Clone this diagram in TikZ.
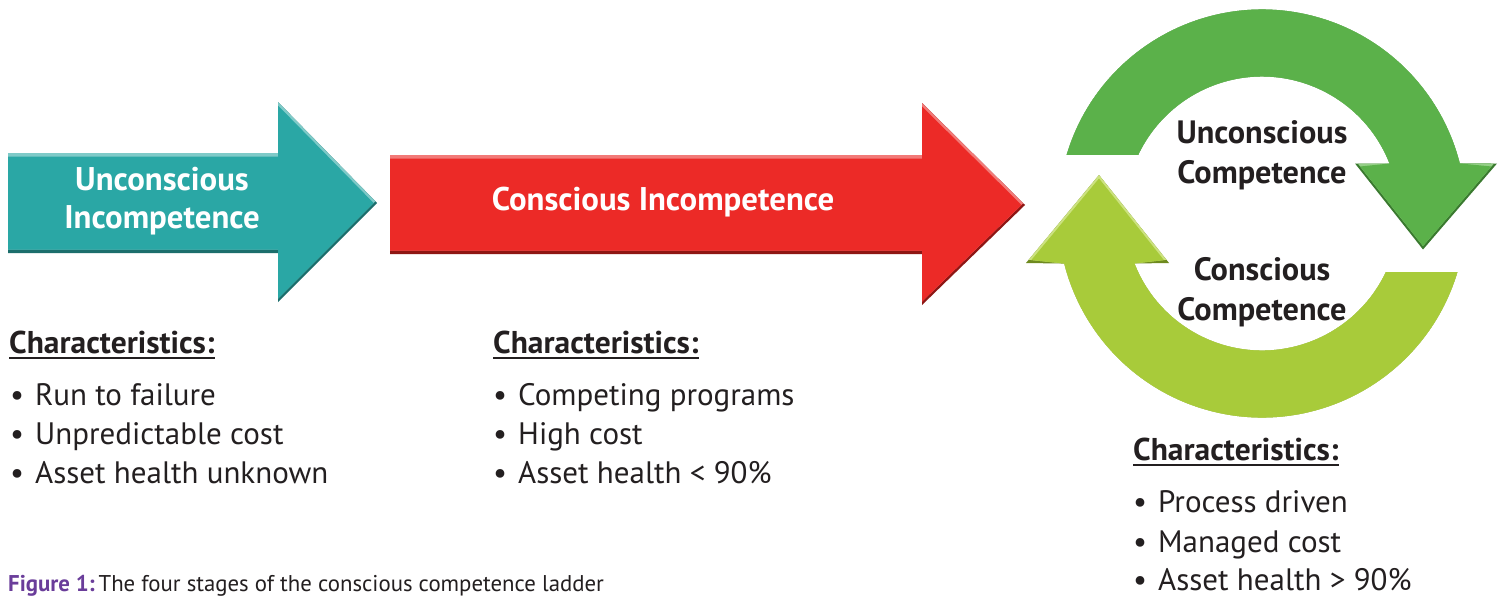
\documentclass[tikz,border=0pt]{standalone}
\usepackage{fontspec}
\setmainfont{PT Sans}
\usetikzlibrary{calc}
\definecolor{txt}{HTML}{231F20}
\definecolor{capc}{HTML}{6A3D9A}
\definecolor{tealM}{HTML}{2AA7A5}
\definecolor{tealL}{HTML}{7FCAC8}
\definecolor{tealD}{HTML}{1B6E6C}
\definecolor{redM}{HTML}{EC2A27}
\definecolor{redL}{HTML}{F27A78}
\definecolor{redD}{HTML}{8E1614}
\definecolor{grnM}{HTML}{5BB14A}
\definecolor{grnL}{HTML}{95CF87}
\definecolor{grnD}{HTML}{3A7A2F}
\definecolor{ygM}{HTML}{A8CB3A}
\definecolor{ygL}{HTML}{CCE27F}
\definecolor{ygD}{HTML}{6E8A1F}
\newcommand\bevelshape[4]{%
  \begin{scope}
    \clip #1;
    \fill[#4] (-100,200) rectangle (1700,-800);
    \begin{scope}[yshift=3.5pt]
      \clip #1;
      \fill[#3] (-100,200) rectangle (1700,-800);
      \begin{scope}[yshift=-7pt]
        \clip #1;
        \fill[#2] (-100,200) rectangle (1700,-800);
      \end{scope}
    \end{scope}
  \end{scope}}
\tikzset{
  lbl/.style={anchor=base, text=white, inner sep=0, font=\bfseries\fontsize{32.8}{38}\selectfont},
  clbl/.style={anchor=base, text=txt, inner sep=0, font=\bfseries\fontsize{32.3}{38}\selectfont},
  hd/.style={anchor=base west, text=txt, inner sep=0, font=\bfseries\fontsize{31.5}{36}\selectfont},
  item/.style={anchor=base west, text=txt, inner sep=0, font=\fontsize{31}{36}\selectfont},
  uline/.style={draw=txt, line width=2.2pt},
}
\newcommand\bul[1]{\makebox[25pt][l]{\textbullet}#1}
\begin{document}
\begin{tikzpicture}[x=1pt,y=1pt]
\useasboundingbox (0,0) rectangle (1501,-598);
\fill[white] (0,0) rectangle (1501,-598);
\coordinate (C) at (1262,-213.5);
\def\tealpath{(8,-153) -- (278,-153) -- (278,-102) -- (377,-203) -- (278,-302) -- (278,-253) -- (8,-253) -- cycle}
\def\redpath{(390,-155) -- (922,-155) -- (922,-103) -- (1025,-205) -- (922,-305) -- (922,-254) -- (390,-254) -- cycle}
\def\toparc{($(C)+(163.3:204pt)$) arc[start angle=163.3, end angle=14.2, radius=204pt] -- (1497,-163.5) -- (1423,-249.5) -- (1355,-163.5) -- ($(C)+(21.4:137pt)$) arc[start angle=21.4, end angle=154.7, radius=137pt] -- cycle}
\def\botarc{($(C)+(343.3:204pt)$) arc[start angle=343.3, end angle=194.2, radius=204pt] -- (1026,-263) -- (1099,-175) -- (1169,-263) -- ($(C)+(201.4:137pt)$) arc[start angle=201.4, end angle=334.7, radius=137pt] -- cycle}
\bevelshape{\tealpath}{tealM}{tealL}{tealD}
\bevelshape{\redpath}{redM}{redL}{redD}
\bevelshape{\toparc}{grnM}{grnL}{grnD}
\bevelshape{\botarc}{ygM}{ygL}{ygD}
% arrow labels
\node[lbl] (t1) at (162,-190) {Unconscious};
\node[lbl] (t2) at (162,-228) {Incompetence};
\node[lbl] (r1) at (663,-210) {Conscious Incompetence};
\node[clbl] (g1) at (1262,-143) {Unconscious};
\node[clbl] (g2) at (1262,-183) {Competence};
\node[clbl] (y1) at (1262,-280) {Conscious};
\node[clbl] (y2) at (1262,-320) {Competence};
% left block
\node[hd] (h1) at (9,-353) {Characteristics:};
\draw[uline] ($(h1.base west)+(0,-5)$) -- ($(h1.base east)+(0,-5)$);
\node[item] (a1) at (10,-405) {\bul{Run to failure}};
\node[item] (a2) at (10,-444) {\bul{Unpredictable cost}};
\node[item] (a3) at (10,-483) {\bul{Asset health unknown}};
% middle block
\node[hd] (h2) at (493,-353) {Characteristics:};
\draw[uline] ($(h2.base west)+(0,-5)$) -- ($(h2.base east)+(0,-5)$);
\node[item] (b1) at (493,-405) {\bul{Competing programs}};
\node[item] (b2) at (493,-444) {\bul{High cost}};
\node[item] (b3) at (493,-483) {\bul{Asset health < 90\%}};
% right block
\node[hd] (h3) at (1133,-460) {Characteristics:};
\draw[uline] ($(h3.base west)+(0,-5)$) -- ($(h3.base east)+(0,-5)$);
\node[item] (c1) at (1133,-512) {\bul{Process driven}};
\node[item] (c2) at (1133,-552) {\bul{Managed cost}};
\node[item] (c3) at (1133,-590) {\bul{Asset health > 90\%}};
% caption
\node[anchor=base west, inner sep=0, text=txt, font=\fontsize{22.8}{26}\selectfont] (cap) at (8,-591) {\textcolor{capc}{\bfseries Figure 1:}\,The four stages of the conscious competence ladder};
\end{tikzpicture}
\end{document}
